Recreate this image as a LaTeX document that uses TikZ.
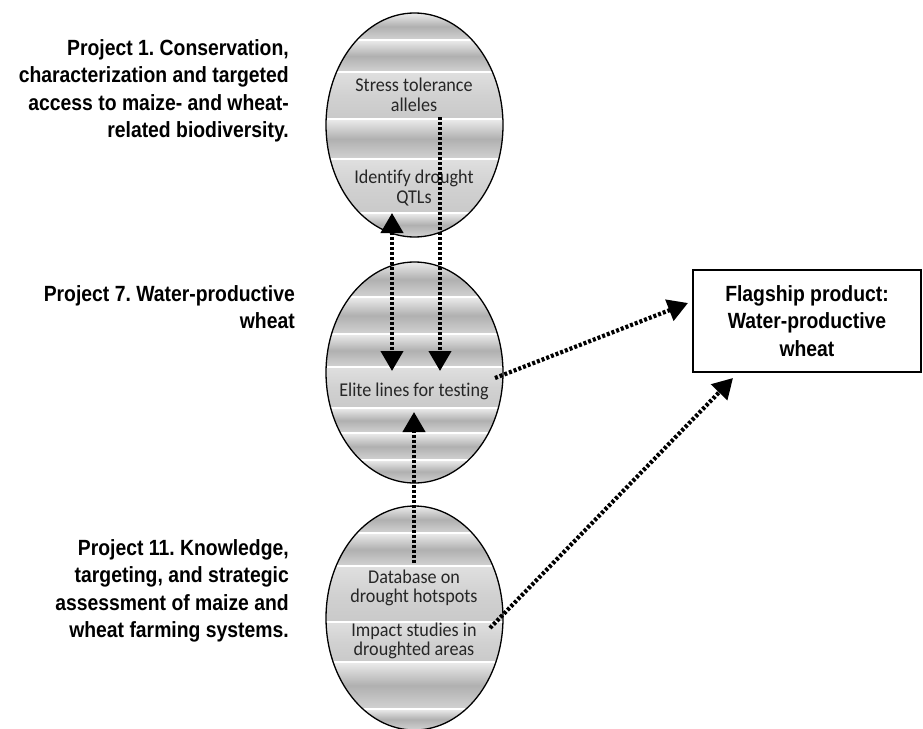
\documentclass[tikz,border=0pt]{standalone}
\usepackage{fontspec}
\setmainfont{Liberation Sans}
\newfontfamily\projfont[FakeStretch=0.88]{Liberation Sans}
\newfontfamily\eggfont[FakeStretch=0.93, Ligatures=CommonOff]{Carlito}
\usetikzlibrary{shapes.geometric,arrows.meta}
\frenchspacing

\tikzset{
  proj/.style={font=\projfont\bfseries\fontsize{22}{27.5}\selectfont, align=right, anchor=east, inner sep=0},
  egg/.style={draw, ellipse, line width=1.3pt, minimum width=177pt, minimum height=224pt, inner sep=0},
  eggtext/.style={font=\eggfont\fontsize{19.5}{19.5}\selectfont, text=black!85, align=center, inner sep=0},
  band/.style={top color=gray!15, bottom color=gray!35, middle color=gray!62},
  txtband/.style={top color=gray!25, bottom color=gray!42, middle color=gray!36},
  dotarrow/.style={line width=4.2pt, dash pattern=on 3pt off 2pt, -{Triangle[length=20pt,width=22pt]}},
}

\begin{document}
\begin{tikzpicture}[x=1pt, y=-1pt]
\useasboundingbox (0,0) rectangle (923,728);
% bands inside the three ellipses
\begin{scope}
\clip (414.5,125) ellipse (88.5pt and 112pt);
\foreach \a/\b in {13/40,40/72,119/159,213/237} \shade[band] (320,\a) rectangle (510,\b);
\foreach \a/\b in {72/119,159/213} \shade[txtband] (320,\a) rectangle (510,\b);
\foreach \y in {40,72,119,159,213} \draw[white, line width=1.5pt] (320,\y) -- ++(190,0);
\end{scope}
\begin{scope}
\clip (414.5,372.5) ellipse (88.5pt and 110.5pt);
\foreach \a/\b in {262/297,297/334,334/367,408/433,433/460,460/483} \shade[band] (320,\a) rectangle (510,\b);
\foreach \a/\b in {367/408} \shade[txtband] (320,\a) rectangle (510,\b);
\foreach \y in {297,334,367,408,433,460} \draw[white, line width=1.5pt] (320,\y) -- ++(190,0);
\end{scope}
\begin{scope}
\clip (414.5,618) ellipse (88.5pt and 112pt);
\foreach \a/\b in {506/533,533/566,662/709,709/730} \shade[band] (320,\a) rectangle (510,\b);
\foreach \a/\b in {566/622,622/662} \shade[txtband] (320,\a) rectangle (510,\b);
\foreach \y in {533,566,622,662,709} \draw[white, line width=1.5pt] (320,\y) -- ++(190,0);
\end{scope}

\node[egg] (e1) at (414.5,125) {};
\node[egg, minimum height=221pt] (e2) at (414.5,372.5) {};
\node[egg] (e3) at (414.5,618) {};

\node[eggtext] (alleles) at (414,95) {Stress tolerance\\alleles};
\node[eggtext] (qtl) at (414,188) {Identify drought\\QTLs};
\node[eggtext] (elite) at (414,391) {Elite lines for testing};
\node[eggtext] (hotspots) at (414,588) {Database on\\drought hotspots};
\node[eggtext] (impact) at (414,641) {Impact studies in\\droughted areas};

\node[proj] (p1) at (289,91) {Project 1. Conservation,\\characterization and targeted\\access to maize- and wheat-\\related biodiversity.};
\node[proj] (p7) at (295,307) {Project 7. Water-productive\\wheat};
\node[proj] (p11) at (289,591) {Project 11. Knowledge,\\targeting, and strategic\\assessment of maize and\\wheat farming systems.};

\node[draw, line width=1.3pt, minimum width=228pt, minimum height=102pt, align=center,
  font=\projfont\bfseries\fontsize{22}{27.5}\selectfont] (flag) at (807,321) {Flagship product:\\Water-productive\\wheat};

% arrow ends
\coordinate (a1s) at (440,117);  \coordinate (a1e) at (440,371);
\coordinate (a2s) at (392,213);  \coordinate (a2e) at (392,371);
\coordinate (a3s) at (414,563);  \coordinate (a3e) at (414,412);
\coordinate (a4s) at (495,378);  \coordinate (a4e) at (688,303);
\coordinate (a5s) at (490,628);  \coordinate (a5e) at (733,378);
\draw[dotarrow] (a1s) -- (a1e);
\draw[dotarrow, {Triangle[length=20pt,width=22pt]}-{Triangle[length=20pt,width=22pt]}] (a2s) -- (a2e);
\draw[dotarrow] (a3s) -- (a3e);
\draw[dotarrow] (a4s) -- (a4e);
\draw[dotarrow] (a5s) -- (a5e);
\end{tikzpicture}
\end{document}
